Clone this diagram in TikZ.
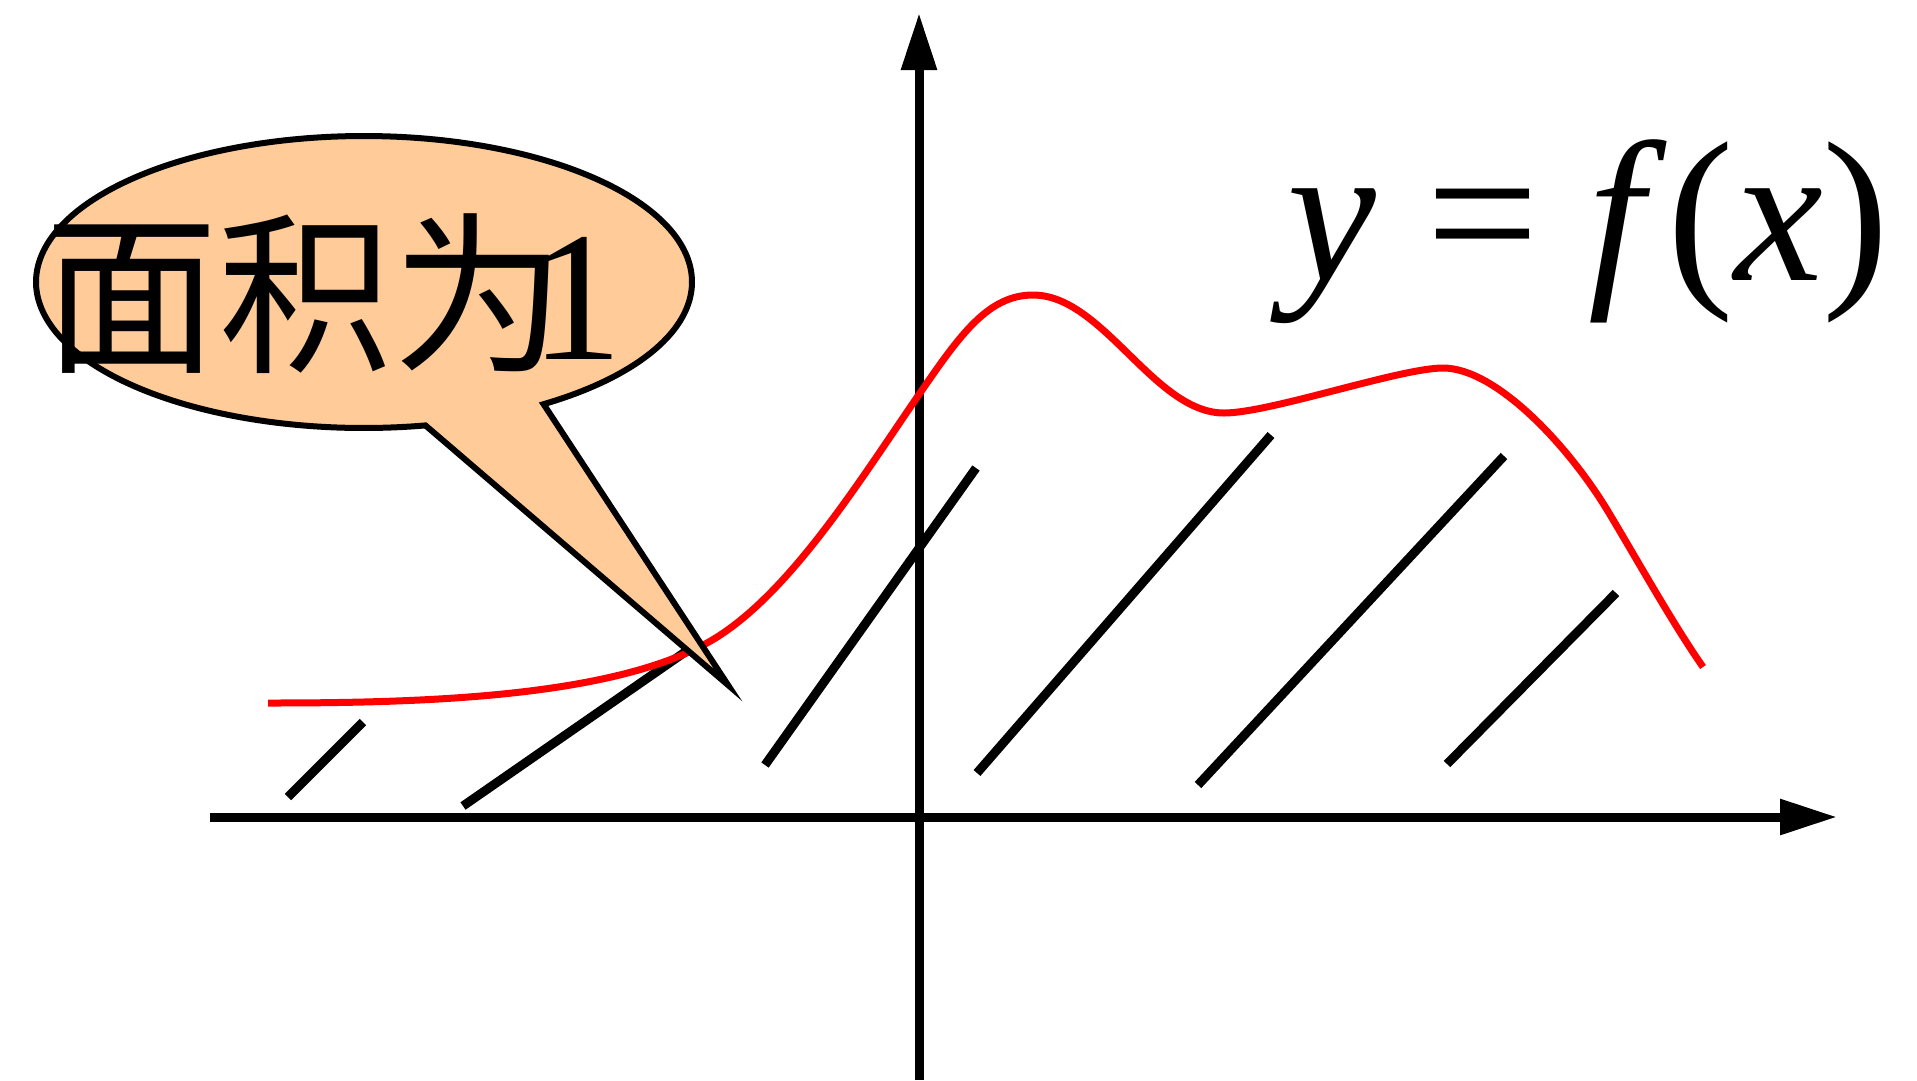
\documentclass[tikz,border=0pt]{standalone}
\usepackage{fontspec}
\setmainfont{Liberation Serif}
\newfontfamily\cjk{Noto Sans CJK SC}
\usetikzlibrary{arrows.meta}
\definecolor{peach}{HTML}{FFCC99}
\begin{document}
\begin{tikzpicture}[x=1pt,y=-1pt,
  axis/.style={line width=9pt, -{Triangle[length=57pt,width=34pt]}},
  hatch/.style={line width=9pt},
  curve/.style={red, line width=7pt},
  callout/.style={fill=peach, draw=black, line width=6pt, line join=miter, miter limit=12},
]
\useasboundingbox (0,0) rectangle (1917,1080);
% axes
\coordinate (xs) at (210,817);
\coordinate (xe) at (1837,817);
\coordinate (ys) at (919,1080);
\coordinate (ye) at (919,13);
\draw[axis] (xs) -- (xe);
\draw[axis] (ys) -- (ye);
% hatch lines
\coordinate (h1a) at (288,797);  \coordinate (h1b) at (363,722);
\coordinate (h2a) at (463,806);  \coordinate (h2b) at (688,650);
\coordinate (h3a) at (765,765);  \coordinate (h3b) at (976,468);
\coordinate (h4a) at (977,773);  \coordinate (h4b) at (1271,435);
\coordinate (h5a) at (1198,785); \coordinate (h5b) at (1504,456);
\coordinate (h6a) at (1447,764); \coordinate (h6b) at (1616,593);
\foreach \i in {1,...,6} \draw[hatch] (h\i a) -- (h\i b);
% curve y = f(x)
\coordinate (c0) at (268,703);
\coordinate (c1) at (707,643);
\coordinate (c2) at (920,393);
\coordinate (c3) at (1033,295);
\coordinate (c4) at (1224,413);
\coordinate (c5) at (1443,368);
\coordinate (c6) at (1609,513);
\coordinate (c7) at (1703,667);
\draw[curve] (c0) .. controls (418,703) and (607,698) .. (c1)
  .. controls (787,599) and (860,480) .. (c2)
  .. controls (960,335) and (988,295) .. (c3)
  .. controls (1103,295) and (1154,413) .. (c4)
  .. controls (1270,413) and (1400,368) .. (c5)
  .. controls (1496,368) and (1569,446) .. (c6)
  .. controls (1639,563) and (1673,624) .. (c7);
% callout
\coordinate (tip) at (728,685);
\draw[callout] plot[domain=56.8:-280.8, samples=240] ({364+328*cos(\x)},{282+146*sin(\x)}) -- (tip) -- cycle;
\node[anchor=base west, inner sep=0pt] (label) at (44,359)
  {{\cjk\fontsize{174pt}{174pt}\selectfont 面积为}\hspace{-36pt}{\fontsize{185pt}{185pt}\selectfont 1}};
% equation
\node[anchor=base west, inner sep=0pt] (eq) at (1287,280)
  {\fontsize{200pt}{200pt}\selectfont\textit{y} = \textit{f}(\textit{x})};
\end{tikzpicture}
\end{document}
